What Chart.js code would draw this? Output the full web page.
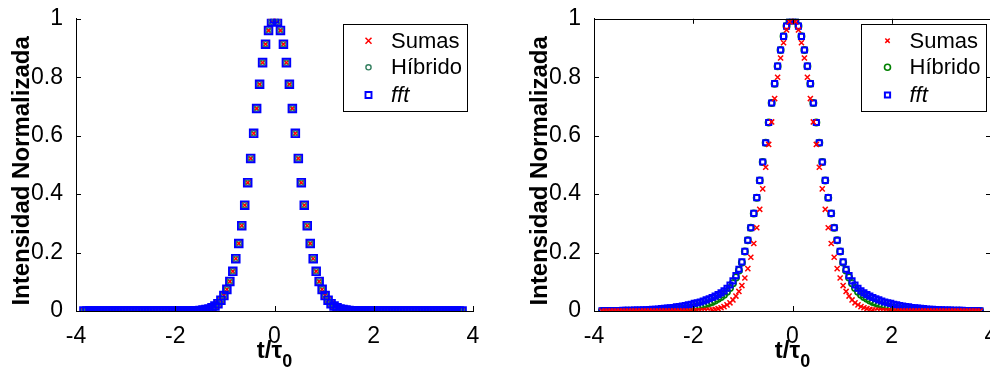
<!DOCTYPE html>
<html>
<head>
<meta charset="utf-8">
<script src="https://cdn.jsdelivr.net/npm/chart.js@4.4.1/dist/chart.umd.min.js"></script>
<style>
  html, body { margin: 0; padding: 0; background: #fff; overflow: hidden; width: 990px; height: 369px; }
  #left { position: absolute; left: 0; top: 0; width: 495px; height: 369px; }
  #right { position: absolute; left: 495px; top: 0; width: 520px; height: 369px; }
</style>
</head>
<body>
<div id="left"><canvas id="chartA"></canvas></div>
<div id="right"><canvas id="chartB"></canvas></div>
<script>
// time axis t/tau0 (same sampling in both panels)
const tVals = [
  -3.84,-3.78,-3.72,-3.66,-3.60,-3.54,-3.48,-3.42,-3.36,-3.30,
  -3.24,-3.18,-3.12,-3.06,-3.00,-2.94,-2.88,-2.82,-2.76,-2.70,
  -2.64,-2.58,-2.52,-2.46,-2.40,-2.34,-2.28,-2.22,-2.16,-2.10,
  -2.04,-1.98,-1.92,-1.86,-1.80,-1.74,-1.68,-1.62,-1.56,-1.50,
  -1.44,-1.38,-1.32,-1.26,-1.20,-1.14,-1.08,-1.02,-0.96,-0.90,
  -0.84,-0.78,-0.72,-0.66,-0.60,-0.54,-0.48,-0.42,-0.36,-0.30,
  -0.24,-0.18,-0.12,-0.06,
  0,0.06,0.12,0.18,0.24,0.30,0.36,0.42,0.48,0.54,
  0.60,0.66,0.72,0.78,0.84,0.90,0.96,1.02,1.08,1.14,
  1.20,1.26,1.32,1.38,1.44,1.50,1.56,1.62,1.68,1.74,
  1.80,1.86,1.92,1.98,2.04,2.10,2.16,2.22,2.28,2.34,
  2.40,2.46,2.52,2.58,2.64,2.70,2.76,2.82,2.88,2.94,
  3.00,3.06,3.12,3.18,3.24,3.30,3.36,3.42,3.48,3.54,
  3.60,3.66,3.72,3.78
];

// left panel: the three methods coincide
const sumasA = [
  0,0,0,0,0,0,0,0,0,0, 0,0,0,0,0,0,0,0,0,0, 0,0,0,0,0,0,0,0,0,0, 0,0,0,0,0,0,0,
  0.001,0.001,0.002,0.003,0.005,0.007,0.011,0.017,
  0.025,0.037,0.053,0.074,0.101,0.136,0.179,0.231,0.292,0.362,
  0.439,0.522,0.608,0.693,0.776,0.850,0.913,0.960,0.990,
  1.000,
  0.990,0.960,0.913,0.850,0.776,0.693,0.608,0.522,0.439,
  0.362,0.292,0.231,0.179,0.136,0.101,0.074,0.053,0.037,0.025,
  0.017,0.011,0.007,0.005,0.003,0.002,0.001,0.001,
  0,0,0,0,0,0,0,0,0,0, 0,0,0,0,0,0,0,0,0,0, 0,0,0,0,0,0,0,0,0,0, 0,0,0,0,0,0
];
const hibridoA = [
  0,0,0,0,0,0,0,0,0,0, 0,0,0,0,0,0,0,0,0,0, 0,0,0,0,0,0,0,0,0,0, 0,0,0,0,0,0,0,
  0.001,0.001,0.002,0.003,0.005,0.007,0.011,0.017,
  0.025,0.037,0.053,0.074,0.101,0.136,0.179,0.231,0.292,0.362,
  0.439,0.522,0.608,0.693,0.776,0.850,0.913,0.960,0.990,
  1.000,
  0.990,0.960,0.913,0.850,0.776,0.693,0.608,0.522,0.439,
  0.362,0.292,0.231,0.179,0.136,0.101,0.074,0.053,0.037,0.025,
  0.017,0.011,0.007,0.005,0.003,0.002,0.001,0.001,
  0,0,0,0,0,0,0,0,0,0, 0,0,0,0,0,0,0,0,0,0, 0,0,0,0,0,0,0,0,0,0, 0,0,0,0,0,0
];
const fftA = [
  0,0,0,0,0,0,0,0,0,0, 0,0,0,0,0,0,0,0,0,0, 0,0,0,0,0,0,0,0,0,0, 0,0,0,0,0,0,0,
  0.001,0.001,0.002,0.003,0.005,0.007,0.011,0.017,
  0.025,0.037,0.053,0.074,0.101,0.136,0.179,0.231,0.292,0.362,
  0.439,0.522,0.608,0.693,0.776,0.850,0.913,0.960,0.990,
  1.000,
  0.990,0.960,0.913,0.850,0.776,0.693,0.608,0.522,0.439,
  0.362,0.292,0.231,0.179,0.136,0.101,0.074,0.053,0.037,0.025,
  0.017,0.011,0.007,0.005,0.003,0.002,0.001,0.001,
  0,0,0,0,0,0,0,0,0,0, 0,0,0,0,0,0,0,0,0,0, 0,0,0,0,0,0,0,0,0,0, 0,0,0,0,0,0
];

// right panel
const sumasB = [
  0,0,0,0,0,0,0,0,0,0, 0,0,0,0,0,0,0,0,0,0, 0,0,0,0,0,0,0,0,0,0, 0,
  0.001,0.001,0.001,0.002,
  0.002,0.003,0.004,0.006,0.008,0.011,0.015,0.021,0.028,0.038,
  0.051,0.067,0.087,0.113,0.145,0.184,0.231,0.285,0.348,0.418,
  0.492,0.570,0.647,0.727,0.800,0.866,0.918,0.962,0.990,
  1.000,
  0.990,0.962,0.918,0.866,0.800,0.727,0.647,0.570,0.492,
  0.418,0.348,0.285,0.231,0.184,0.145,0.113,0.087,0.067,0.051,
  0.038,0.028,0.021,0.015,0.011,0.008,0.006,0.004,0.003,0.002,
  0.002,0.001,0.001,0.001,
  0,0,0,0,0,0,0,0,0,0, 0,0,0,0,0,0,0,0,0,0, 0,0,0,0,0,0,0,0,0,0
];
const hibridoB = [
  0,0,0,0,0,0,0,0,
  0.001,0.001,0.001,0.001,0.001,0.001,0.001,
  0.001,0.002,0.002,0.002,0.002,0.003,0.003,0.004,0.004,0.005,
  0.005,0.006,0.007,0.008,0.010,0.011,0.013,0.015,0.017,0.020,
  0.023,0.027,0.031,0.036,0.042,0.048,0.056,0.066,0.079,0.095,
  0.115,0.139,0.166,0.204,0.242,0.285,0.334,0.388,0.447,0.510,
  0.576,0.645,0.712,0.778,0.838,0.893,0.940,0.975,0.993,
  1.000,
  0.993,0.975,0.940,0.893,0.838,0.778,0.712,0.645,0.576,
  0.510,0.447,0.388,0.334,0.285,0.242,0.204,0.166,0.139,0.115,
  0.095,0.079,0.066,0.056,0.048,0.042,0.036,0.031,0.027,0.023,
  0.020,0.017,0.015,0.013,0.011,0.010,0.008,0.007,0.006,0.005,
  0.005,0.004,0.004,0.003,0.003,0.002,0.002,0.002,0.002,0.001,
  0.001,0.001,0.001,0.001,0.001,0.001,0.001,
  0,0,0,0,0,0,0
];
const fftB = [
  0.001,0.001,0.001,0.001,0.001,
  0.001,0.001,0.002,0.002,0.002,0.002,0.003,0.003,0.003,0.004,
  0.004,0.005,0.006,0.006,0.007,0.008,0.009,0.010,0.011,0.012,
  0.014,0.015,0.017,0.019,0.021,0.023,0.026,0.028,0.031,0.034,
  0.038,0.042,0.046,0.051,0.056,0.062,0.069,0.078,0.089,0.103,
  0.121,0.143,0.168,0.204,0.242,0.285,0.334,0.388,0.447,0.510,
  0.576,0.645,0.712,0.778,0.838,0.893,0.940,0.975,0.993,
  1.000,
  0.993,0.975,0.940,0.893,0.838,0.778,0.712,0.645,0.576,
  0.510,0.447,0.388,0.334,0.285,0.242,0.204,0.168,0.143,0.121,
  0.103,0.089,0.078,0.069,0.062,0.056,0.051,0.046,0.042,0.038,
  0.034,0.031,0.028,0.026,0.023,0.021,0.019,0.017,0.015,0.014,
  0.012,0.011,0.010,0.009,0.008,0.007,0.006,0.006,0.005,0.004,
  0.004,0.003,0.003,0.003,0.002,0.002,0.002,0.002,0.001,0.001,
  0.001,0.001,0.001,0.001
];

const seriesNames = ['Sumas', 'Híbrido', 'fft'];
const xTicks = [-4, -2, 0, 2, 4];
const yTicks = [0, 0.2, 0.4, 0.6, 0.8, 1];

const FONT = '"Liberation Sans", Arial, sans-serif';

// marker looks per panel: order controls stacking (higher = drawn first)
const lookA = [
  { style: 'crossRot', r: 4.4, lw: 1.5, color: '#ff0000', order: 3, lr: 3.0 },
  { style: 'circle', r: 2.6, lw: 1.4, color: '#337f5f', order: 2, lr: 2.6 },
  { style: 'rect', r: 5.4, lw: 1.9, color: '#0000ff', order: 1, lr: 3.0 },
];
const lookB = [
  { style: 'crossRot', r: 3.6, lw: 1.5, color: '#ff0000', order: 1, lr: 2.2 },
  { style: 'circle', r: 3.2, lw: 1.6, color: '#008000', order: 3, lr: 3.0 },
  { style: 'rect', r: 3.6, lw: 2, color: '#0000ff', order: 2, lr: 2.6 },
];

function drawMarker(ctx, m, x, y) {
  ctx.save();
  ctx.strokeStyle = m.color;
  ctx.lineWidth = m.lw;
  ctx.beginPath();
  const d = m.lr;
  if (m.style === 'crossRot') {
    ctx.moveTo(x - d, y - d); ctx.lineTo(x + d, y + d);
    ctx.moveTo(x + d, y - d); ctx.lineTo(x - d, y + d);
  } else if (m.style === 'circle') {
    ctx.arc(x, y, d, 0, Math.PI * 2);
  } else {
    ctx.rect(x - d, y - d, 2 * d, 2 * d);
  }
  ctx.stroke();
  ctx.restore();
}

// MATLAB-like frame: inward ticks, optional box, axis titles, boxed legend
const matlabFrame = {
  id: 'matlabFrame',
  afterDraw(chart, args, opts) {
    const ctx = chart.ctx;
    const a = chart.chartArea;
    const xs = chart.scales.x, ys = chart.scales.y;
    ctx.save();
    ctx.strokeStyle = '#000';
    ctx.lineWidth = 1;
    ctx.beginPath();
    if (opts.box) {
      ctx.moveTo(a.left, Math.round(a.top) + 0.5); ctx.lineTo(a.right, Math.round(a.top) + 0.5);
      ctx.moveTo(Math.round(a.right) - 0.5, a.top); ctx.lineTo(Math.round(a.right) - 0.5, a.bottom);
    }
    xTicks.forEach(v => {
      const px = Math.round(xs.getPixelForValue(v)) + 0.5;
      ctx.moveTo(px, a.bottom); ctx.lineTo(px, a.bottom - 5);
      if (opts.box) { ctx.moveTo(px, a.top); ctx.lineTo(px, a.top + 5); }
    });
    yTicks.forEach(v => {
      const py = Math.round(ys.getPixelForValue(v)) + 0.5;
      ctx.moveTo(a.left, py); ctx.lineTo(a.left + 5, py);
      if (opts.box) { ctx.moveTo(a.right, py); ctx.lineTo(a.right - 5, py); }
    });
    ctx.stroke();

    // y title
    ctx.fillStyle = '#000';
    ctx.save();
    ctx.translate(a.left - 54, (a.top + a.bottom) / 2 + 6);
    ctx.rotate(-Math.PI / 2);
    ctx.font = 'bold 24px ' + FONT;
    ctx.textAlign = 'center';
    ctx.textBaseline = 'middle';
    ctx.fillText('Intensidad Normalizada', 0, 0);
    ctx.restore();

    // x title t/tau_0
    const cx = (a.left + a.right) / 2;
    ctx.font = 'bold 24px ' + FONT;
    const mainW = ctx.measureText('t/τ').width;
    ctx.font = 'bold 18px ' + FONT;
    const subW = ctx.measureText('0').width;
    const x0 = cx - (mainW + subW) / 2;
    ctx.textAlign = 'left';
    ctx.textBaseline = 'alphabetic';
    ctx.font = 'bold 24px ' + FONT;
    ctx.fillText('t/τ', x0, 358);
    ctx.font = 'bold 18px ' + FONT;
    ctx.fillText('0', x0 + mainW, 367);

    // legend
    const L = opts.legend;
    ctx.fillStyle = '#fff';
    ctx.fillRect(L.x0, L.y0, L.x1 - L.x0, L.y1 - L.y0);
    ctx.strokeStyle = '#000';
    ctx.lineWidth = 1;
    ctx.strokeRect(Math.round(L.x0) + 0.5, Math.round(L.y0) + 0.5,
      Math.round(L.x1 - L.x0), Math.round(L.y1 - L.y0));
    ctx.fillStyle = '#000';
    ctx.textBaseline = 'middle';
    seriesNames.forEach((name, i) => {
      const y = L.rows[i];
      drawMarker(ctx, opts.look[i], L.mx, y);
      ctx.font = (name === 'fft' ? 'italic ' : '') + '22px ' + FONT;
      ctx.fillText(name, L.tx, y + 1);
    });
    ctx.restore();
  }
};

function tickText(v) {
  return String(Number(v.toFixed(1)));
}

function panelConfig(series, look, yWidth, padRight, frameOpts) {
  return {
    type: 'scatter',
    data: {
      datasets: series.map((vals, i) => ({
        label: seriesNames[i],
        data: tVals.map((t, j) => ({ x: t, y: vals[j] })),
        pointStyle: look[i].style,
        pointRadius: look[i].r,
        pointHoverRadius: look[i].r,
        pointBorderWidth: look[i].lw,
        pointBorderColor: look[i].color,
        pointBackgroundColor: 'rgba(0,0,0,0)',
        showLine: false,
        order: look[i].order,
      })),
    },
    options: {
      responsive: true,
      maintainAspectRatio: false,
      animation: false,
      devicePixelRatio: 1,
      layout: { padding: { top: 18, right: padRight, left: 0, bottom: 0 } },
      plugins: {
        legend: { display: false },
        tooltip: { enabled: false },
        matlabFrame: Object.assign({ look: look }, frameOpts),
      },
      scales: {
        x: {
          type: 'linear',
          min: -4,
          max: 4,
          afterBuildTicks: s => { s.ticks = xTicks.map(v => ({ value: v })); },
          afterFit: s => { s.height = 58; },
          grid: { display: false },
          border: { display: true, color: '#000', width: 1 },
          ticks: { color: '#000', padding: 4, maxRotation: 0, autoSkip: false,
            callback: v => tickText(v), font: { family: FONT, size: 23 } },
        },
        y: {
          type: 'linear',
          min: 0,
          max: 1,
          afterBuildTicks: s => { s.ticks = yTicks.map(v => ({ value: v })); },
          afterFit: s => { s.width = yWidth; },
          grid: { display: false },
          border: { display: true, color: '#000', width: 1 },
          ticks: { color: '#000', padding: 5, autoSkip: false,
            callback: v => tickText(v), font: { family: FONT, size: 23 } },
        },
      },
    },
    plugins: [matlabFrame],
  };
}

new Chart(document.getElementById('chartA'), panelConfig(
  [sumasA, hibridoA, fftA], lookA, 76, 22,
  { box: false, legend: { x0: 343, y0: 24, x1: 467, y1: 111, mx: 368.5, tx: 391, rows: [40.7, 67.3, 95] } }
));

new Chart(document.getElementById('chartB'), panelConfig(
  [sumasB, hibridoB, fftB], lookB, 99, 24,
  { box: true, legend: { x0: 366, y0: 24, x1: 491, y1: 111, mx: 392.5, tx: 414.5, rows: [40.7, 67.3, 95] } }
));
</script>
</body>
</html>
